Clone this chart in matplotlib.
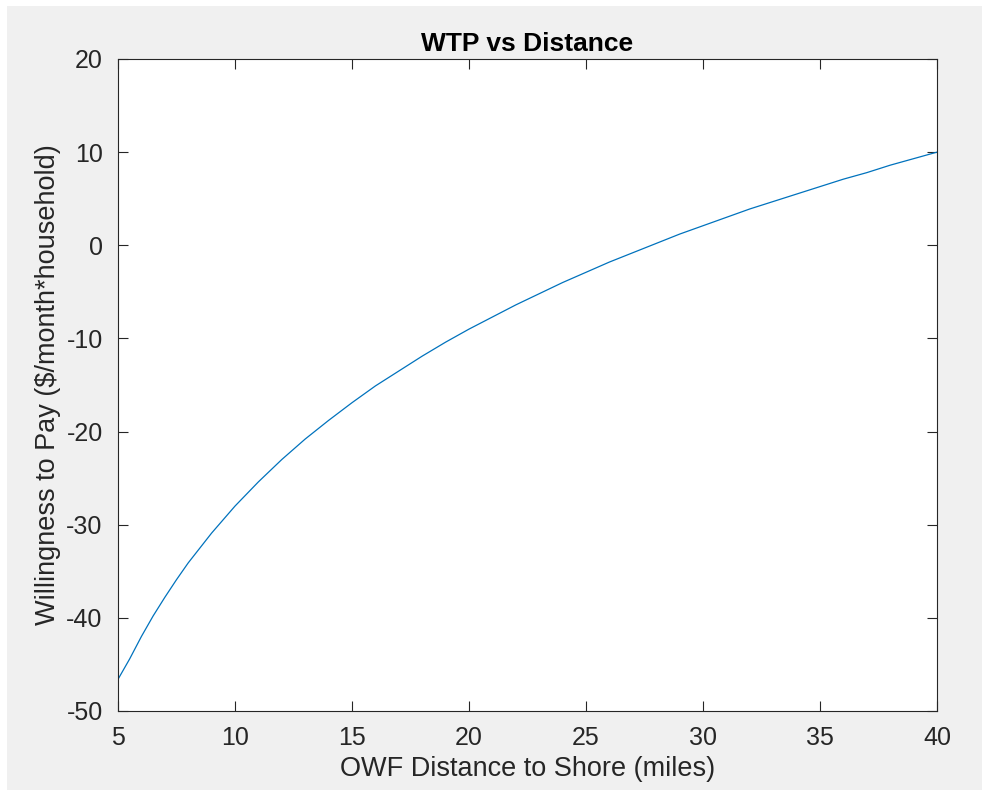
import numpy as np
import matplotlib.pyplot as plt
from matplotlib.patches import Rectangle

# values
distance = [5, 5.5, 6, 6.5, 7, 7.5, 8, 9, 10, 11, 12, 13, 14, 15, 16, 17, 18, 19, 20,
            21, 22, 23, 24, 25, 26, 27, 28, 29, 30, 31, 32, 33, 34, 35, 36, 37, 38, 39, 40]
wtp = [-46.6, -44.4, -42.0, -39.8, -37.8, -35.9, -34.1, -30.9, -28.0, -25.4, -23.0,
       -20.8, -18.8, -16.9, -15.1, -13.5, -11.9, -10.4, -9.0, -7.7, -6.4, -5.2, -4.0,
       -2.9, -1.8, -0.8, 0.2, 1.2, 2.1, 3.0, 3.9, 4.7, 5.5, 6.3, 7.1, 7.8, 8.6, 9.3, 10.0]
x_ticks = [5, 10, 15, 20, 25, 30, 35, 40]
y_ticks = [-50, -40, -30, -20, -10, 0, 10, 20]


def main():
    plt.rcParams['font.family'] = ['Liberation Sans', 'DejaVu Sans']
    plt.rcParams['axes.unicode_minus'] = False
    fig = plt.figure(figsize=(9.82, 7.9), dpi=100, facecolor='#f0f0f0')
    # thin white strip along top and left edge, as in the screenshot
    fig.patches.append(Rectangle((0, 1 - 6 / 790), 1, 6 / 790, transform=fig.transFigure,
                                 facecolor='white', edgecolor='none'))
    fig.patches.append(Rectangle((0, 0), 7 / 982, 1, transform=fig.transFigure,
                                 facecolor='white', edgecolor='none'))

    ax = fig.add_axes([118 / 982, 1 - 711 / 790, (937 - 118) / 982, (711 - 59) / 790])
    ax.set_facecolor('white')
    ax.plot(distance, wtp, color='#0072BD', linewidth=0.9)

    ax.set_xlim(5, 40)
    ax.set_ylim(-50, 20)
    ax.set_xticks(x_ticks)
    ax.set_yticks(y_ticks)
    ax.tick_params(direction='in', top=True, right=True, length=7, width=0.8,
                   colors='#262626', labelsize=18, pad=11)
    for sp in ax.spines.values():
        sp.set_color('#262626')
        sp.set_linewidth(0.8)

    ax.set_xlabel('OWF Distance to Shore (miles)', fontsize=19.5, color='#262626', labelpad=4)
    ax.set_ylabel('Willingness to Pay ($/month*household)', fontsize=19.5, color='#262626',
                  labelpad=4)
    ax.set_title('WTP vs Distance', fontsize=19, fontweight='bold', color='black', pad=6)

    fig.savefig('out.png', dpi=100, facecolor=fig.get_facecolor())


if __name__ == "__main__":
    main()
